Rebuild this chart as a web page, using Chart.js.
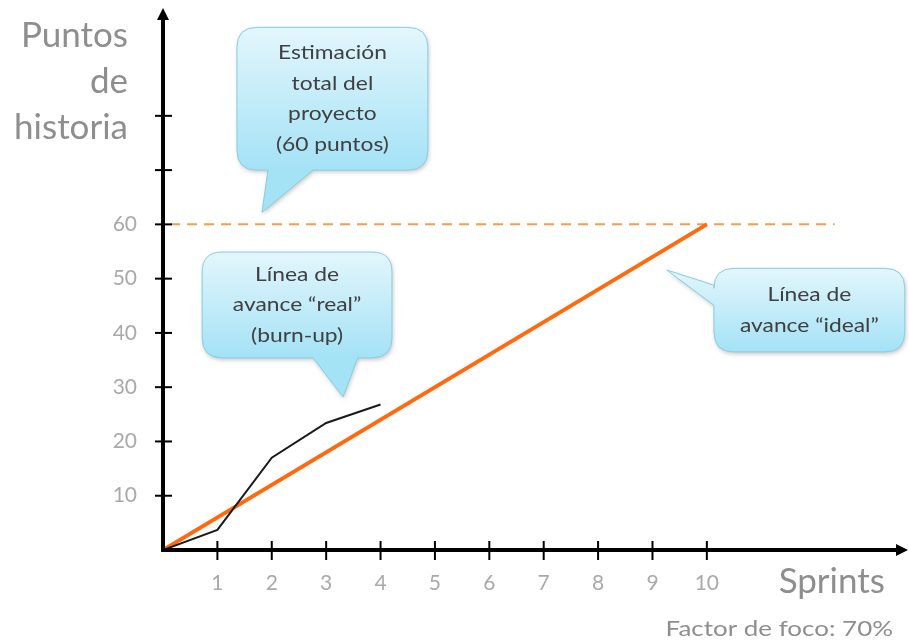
<!DOCTYPE html>
<html>
<head>
<meta charset="utf-8">
<script src="https://cdn.jsdelivr.net/npm/chart.js@4/dist/chart.umd.min.js"></script>
<style>
  html, body { margin: 0; padding: 0; background: #ffffff; }
  #wrap { width: 909px; height: 644px; }
</style>
</head>
<body>
<div id="wrap"><canvas id="c" width="909" height="644"></canvas></div>
<script>
// Burn-up: story points completed per sprint
const sprints = [0, 1, 2, 3, 4];
const realPoints = [0, 3.7, 17, 23.4, 26.8];

// Ideal progress line
const idealSprints = [0, 10];
const idealPoints = [0, 60];

// Total project estimate (dashed reference)
const estimateSprints = [0.13, 12.35];
const estimateTotal = 60;

// Axis ticks
const xTickValues = [1, 2, 3, 4, 5, 6, 7, 8, 9, 10];
const xTickLabels = ['1', '2', '3', '4', '5', '6', '7', '8', '9', '10'];
const yTickValues = [10, 20, 30, 40, 50, 60, 70, 80];
const yTickLabels = ['10', '20', '30', '40', '50', '60'];

// Text
const yAxisTitle = ['Puntos', 'de', 'historia'];
const xAxisTitle = 'Sprints';
const footNote = 'Factor de foco: 70%';

// Speech-bubble notes, placed in data units (sprints, points)
const callouts = [
  { lines: ['Estimación', 'total del', 'proyecto', '(60 puntos)'],
    box: [1.36, 4.87, 96.3, 70.0], tail: 'bottom', base: [1.93, 2.76], tip: [1.82, 62.2] },
  { lines: ['Línea de', 'avance “real”', '(burn-up)'],
    box: [0.72, 4.21, 54.9, 35.4], tail: 'bottom', base: [2.76, 3.58], tip: [3.31, 28.2] },
  { lines: ['Línea de', 'avance “ideal”'],
    box: [10.13, 13.64, 51.9, 36.5], tail: 'left', base: [48.8, 45.1], tip: [9.26, 51.6] }
];

const FONT = 'Lato, "Open Sans", sans-serif';

// Text with an optional horizontal stretch factor
function drawText(ctx, text, x, y, size, align, stretch) {
  ctx.save();
  ctx.font = size + 'px ' + FONT;
  ctx.textAlign = align;
  ctx.textBaseline = 'middle';
  ctx.translate(x, y);
  ctx.scale(stretch || 1, 1);
  ctx.fillText(text, 0, 0);
  ctx.restore();
}

const axesPlugin = {
  id: 'arrowAxes',
  afterDatasetsDraw(chart) {
    const { ctx, chartArea: a, scales: { x, y } } = chart;
    const x0 = x.getPixelForValue(0), y0 = y.getPixelForValue(0);
    ctx.save();
    ctx.strokeStyle = '#000';
    ctx.fillStyle = '#000';
    // tick marks
    ctx.lineWidth = 2;
    yTickValues.forEach(v => {
      const py = y.getPixelForValue(v);
      ctx.beginPath(); ctx.moveTo(x0 - 8, py); ctx.lineTo(x0 + 9, py); ctx.stroke();
    });
    xTickValues.forEach(v => {
      const px = x.getPixelForValue(v);
      ctx.beginPath(); ctx.moveTo(px, y0 - 9); ctx.lineTo(px, y0 + 10); ctx.stroke();
    });
    // axis lines with arrow heads
    ctx.lineWidth = 4;
    ctx.lineCap = 'butt';
    ctx.beginPath(); ctx.moveTo(x0, y0 + 2); ctx.lineTo(x0, a.top + 8); ctx.stroke();
    ctx.beginPath(); ctx.moveTo(x0 - 2, y0); ctx.lineTo(a.right - 8, y0); ctx.stroke();
    ctx.beginPath();
    ctx.moveTo(x0, a.top - 2); ctx.lineTo(x0 - 6, a.top + 10); ctx.lineTo(x0 + 6, a.top + 10); ctx.closePath(); ctx.fill();
    ctx.beginPath();
    ctx.moveTo(a.right + 1, y0); ctx.lineTo(a.right - 11, y0 - 6); ctx.lineTo(a.right - 11, y0 + 6); ctx.closePath(); ctx.fill();

    // tick labels
    ctx.fillStyle = '#a9a9a9';
    yTickLabels.forEach((t, i) => drawText(ctx, t, x0 - 26, y.getPixelForValue(yTickValues[i]), 21, 'right', 1));
    xTickLabels.forEach((t, i) => drawText(ctx, t, x.getPixelForValue(xTickValues[i]), y0 + 33, 21, 'center', 1));

    // axis titles
    ctx.fillStyle = '#8e8e8e';
    yAxisTitle.forEach((t, i) => drawText(ctx, t, x0 - 35, 36 + i * 46, 35, 'right', 1));
    drawText(ctx, xAxisTitle, 885, y0 + 32, 35, 'right', 1);
    drawText(ctx, footNote, 893, y0 + 79, 22, 'right', 1.18);
    ctx.restore();
  }
};

const calloutPlugin = {
  id: 'callouts',
  afterDatasetsDraw(chart) {
    const { ctx, scales: { x, y } } = chart;
    callouts.forEach(c => {
      const L = x.getPixelForValue(c.box[0]), R = x.getPixelForValue(c.box[1]);
      const T = y.getPixelForValue(c.box[2]), B = y.getPixelForValue(c.box[3]);
      const r = 20;
      const tx = x.getPixelForValue(c.tip[0]), ty = y.getPixelForValue(c.tip[1]);
      ctx.save();
      ctx.beginPath();
      ctx.moveTo(L + r, T);
      ctx.lineTo(R - r, T);
      ctx.quadraticCurveTo(R, T, R, T + r);
      ctx.lineTo(R, B - r);
      ctx.quadraticCurveTo(R, B, R - r, B);
      if (c.tail === 'bottom') {
        ctx.lineTo(x.getPixelForValue(c.base[1]), B);
        ctx.lineTo(tx, ty);
        ctx.lineTo(x.getPixelForValue(c.base[0]), B);
      }
      ctx.lineTo(L + r, B);
      ctx.quadraticCurveTo(L, B, L, B - r);
      if (c.tail === 'left') {
        ctx.lineTo(L, y.getPixelForValue(c.base[1]));
        ctx.lineTo(tx, ty);
        ctx.lineTo(L, y.getPixelForValue(c.base[0]));
      }
      ctx.lineTo(L, T + r);
      ctx.quadraticCurveTo(L, T, L + r, T);
      ctx.closePath();
      const g = ctx.createLinearGradient(0, T, 0, B);
      g.addColorStop(0, '#e3f6fc');
      g.addColorStop(1, '#a4e2f6');
      ctx.shadowColor = 'rgba(0,0,0,0.22)';
      ctx.shadowBlur = 4;
      ctx.shadowOffsetX = 1;
      ctx.shadowOffsetY = 2;
      ctx.fillStyle = g;
      ctx.fill();
      ctx.shadowColor = 'transparent';
      ctx.strokeStyle = '#86cde4';
      ctx.lineWidth = 1;
      ctx.stroke();

      ctx.fillStyle = '#404040';
      const lh = 30.5;
      const cx = (L + R) / 2, cy = (T + B) / 2;
      c.lines.forEach((t, i) => {
        drawText(ctx, t, cx, cy + (i - (c.lines.length - 1) / 2) * lh, 20, 'center', 1.14);
      });
      ctx.restore();
    });
  }
};

new Chart(document.getElementById('c'), {
  type: 'line',
  data: {
    datasets: [
      {
        label: 'Estimación total',
        data: estimateSprints.map(s => ({ x: s, y: estimateTotal })),
        borderColor: '#f79a52',
        borderWidth: 2,
        borderDash: [10, 7],
        pointRadius: 0,
        order: 3
      },
      {
        label: 'Ideal',
        data: idealSprints.map((s, i) => ({ x: s, y: idealPoints[i] })),
        borderColor: '#ff6a10',
        borderWidth: 4,
        pointRadius: 0,
        order: 2
      },
      {
        label: 'Real',
        data: sprints.map((s, i) => ({ x: s, y: realPoints[i] })),
        borderColor: '#1a1a1a',
        borderWidth: 2,
        pointRadius: 0,
        tension: 0,
        order: 1
      }
    ]
  },
  options: {
    responsive: false,
    animation: false,
    layout: { padding: { left: 163, top: 10, right: 2, bottom: 94 } },
    plugins: { legend: { display: false }, tooltip: { enabled: false } },
    scales: {
      x: { type: 'linear', min: 0, max: 13.68, display: false },
      y: { type: 'linear', min: 0, max: 99.5, display: false }
    }
  },
  plugins: [axesPlugin, calloutPlugin]
});
</script>
</body>
</html>
